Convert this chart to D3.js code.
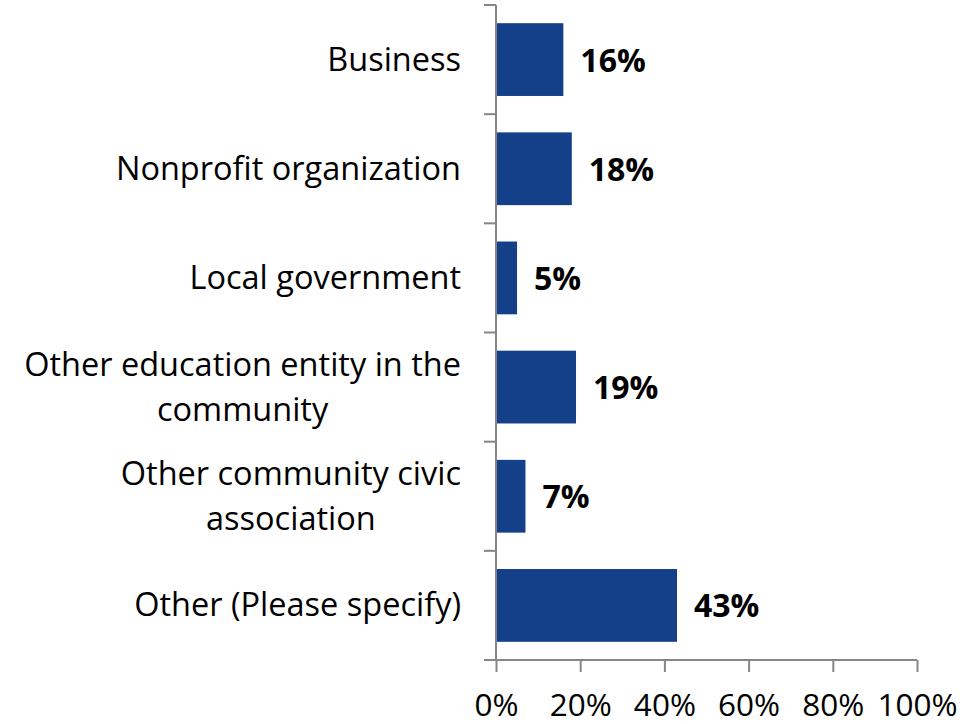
<!DOCTYPE html>
<html><head><meta charset="utf-8">
<script src="https://cdn.jsdelivr.net/npm/d3@7"></script>
<style>body{margin:0;background:#fff;} svg{display:block;}</style>
</head><body>
<svg id="chart" width="976" height="724"></svg>
<script>
const categories = [
  ["Business"],
  ["Nonprofit organization"],
  ["Local government"],
  ["Other education entity in the", "community"],
  ["Other community civic", "association"],
  ["Other (Please specify)"]
];
const values = [0.16, 0.18, 0.05, 0.19, 0.07, 0.43];
const tickValues = [0, 0.2, 0.4, 0.6, 0.8, 1.0];

const FONT = "'Open Sans', Lato, sans-serif";
const svg = d3.select("#chart");
const x0 = 496, x1 = 917, yTop = 5, yBot = 660;
const ids = categories.map((c, i) => i);
const x = d3.scaleLinear().domain([0, 1]).range([x0, x1]);
const y = d3.scaleBand().domain(ids).range([yTop, yBot]).paddingInner(1/3).paddingOuter(1/6);

// bars
svg.append("g").selectAll("rect").data(values).join("rect")
  .attr("x", x(0) + 1)
  .attr("y", (d, i) => y(i))
  .attr("width", d => x(d) - x(0) - 1)
  .attr("height", y.bandwidth())
  .attr("fill", "#134088");

// x axis
const xAxis = svg.append("g").attr("transform", `translate(0,${yBot})`)
  .call(d3.axisBottom(x).tickValues(tickValues).tickFormat(d3.format(".0%")).tickSize(12).tickSizeOuter(0));
xAxis.select(".domain").attr("stroke", "#868686").attr("stroke-width", 2)
  .attr("d", `M${x0 - 12},0H${x1}`);
xAxis.selectAll(".tick line").attr("stroke", "#868686").attr("stroke-width", 2);
xAxis.selectAll(".tick text").attr("font-family", FONT).attr("font-size", 31.5).attr("fill", "#000")
  .attr("y", 0).attr("dy", 0).attr("transform", "translate(0,56)");

// y axis (no labels; ticks at band boundaries)
const step = y.step();
const bounds = d3.range(categories.length + 1).map(i => yTop + i * step);
const yAxisG = svg.append("g");
yAxisG.append("line").attr("x1", x0).attr("x2", x0).attr("y1", yTop).attr("y2", yBot)
  .attr("stroke", "#868686").attr("stroke-width", 2);
yAxisG.selectAll("line.t").data(bounds).join("line").attr("class", "t")
  .attr("x1", x0 - 12).attr("x2", x0).attr("y1", d => d).attr("y2", d => d)
  .attr("stroke", "#868686").attr("stroke-width", 2);

// category labels
const labelRight = 461, lineH = 45, capHalf = 11;
categories.forEach((lines, i) => {
  const cy = y(i) + y.bandwidth() / 2;
  const g = svg.append("g");
  const texts = lines.map((t, k) => g.append("text").text(t)
    .attr("font-family", FONT).attr("font-size", 32.5).attr("fill", "#000")
    .attr("text-anchor", "middle")
    .attr("y", cy + capHalf + (k - (lines.length - 1) / 2) * lineH));
  const maxW = d3.max(texts, t => t.node().getComputedTextLength());
  texts.forEach(t => t.attr("x", labelRight - maxW / 2));
});

// value labels
svg.append("g").selectAll("text").data(values).join("text")
  .attr("x", d => x(d) + 17)
  .attr("y", (d, i) => y(i) + y.bandwidth() / 2 + 12)
  .attr("font-family", FONT).attr("font-weight", "bold").attr("font-size", 32).attr("fill", "#000")
  .text(d => d3.format(".0%")(d));
</script>
</body></html>
